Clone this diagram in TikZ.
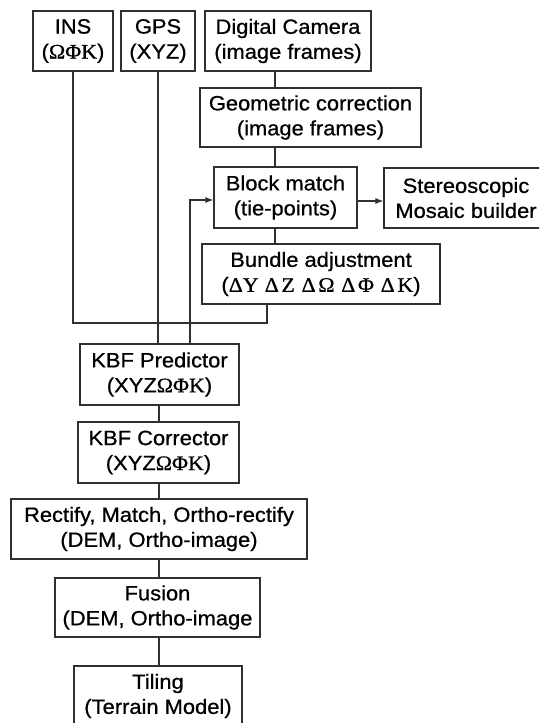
\documentclass[tikz,border=0pt]{standalone}
\usepackage{fontspec}
\setmainfont{Liberation Sans}[FakeStretch=1.06,FakeBold=0.7]
\newfontfamily\grk{Liberation Serif}[FakeStretch=1.06,FakeBold=0.7]
\usetikzlibrary{arrows.meta}
\definecolor{linegray}{HTML}{303030}
\tikzset{
  bx/.style={draw=linegray, line width=0.8pt, inner sep=0pt, align=center,
    font=\fontsize{15.5}{18.75}\selectfont},
  wire/.style={draw=linegray, line width=0.8pt},
  arr/.style={wire, -{Latex[length=6pt,width=4.5pt]}}
}
\begin{document}
\begin{tikzpicture}[x=0.75pt,y=-0.75pt]
\clip (0,0) rectangle (539,723);
\fill[white] (0,0) rectangle (539,723);

% sensors
\node[bx, minimum width=60pt, minimum height=45pt] (ins) at (73,41) {INS\\({\grk ΩΦΚ})};
\node[bx, minimum width=55.5pt, minimum height=45pt] (gps) at (158,41) {GPS\\(XYZ)};
\node[bx, minimum width=124.5pt, minimum height=45pt] (cam) at (288,41) {Digital Camera\\(image frames)};

% image processing chain
\node[bx, minimum width=165.75pt, minimum height=44.25pt] (geo) at (310.5,117.5) {Geometric correction\\(image frames)};
\node[bx, minimum width=107.25pt, minimum height=45.75pt] (block) at (285.5,197.5) {Block match\\(tie-points)};
\node[bx, minimum width=123pt, minimum height=45pt] (stereo) at (466,198) {Stereoscopic\\Mosaic builder};
\node[bx, minimum width=178.5pt, minimum height=45pt] (bund) at (321,274) {Bundle adjustment\\({\grk ΔY\hspace{2pt}\,Δ\hspace{2pt}Z\hspace{5pt}Δ\hspace{2pt}Ω\hspace{5pt}Δ\hspace{2pt}Φ\hspace{5pt}Δ\hspace{2pt}K})};

% filter and terrain chain
\node[bx, minimum width=119.25pt, minimum height=45.75pt] (kbfp) at (159.5,374.5) {KBF Predictor\\(XYZ{\grk ΩΦΚ})};
\node[bx, minimum width=120.75pt, minimum height=45.75pt] (kbfc) at (158.5,452.5) {KBF Corrector\\(XYZ{\grk ΩΦΚ})};
\node[bx, minimum width=222pt, minimum height=45pt] (rect) at (159,529) {Rectify, Match, Ortho-rectify\\(DEM, Ortho-image)};
\node[bx, minimum width=153.75pt, minimum height=44.25pt] (fus) at (157.5,607.5) {Fusion\\(DEM, Ortho-image};
\node[bx, minimum width=126pt, minimum height=45pt] (til) at (158,696) {Tiling\\(Terrain Model)};

% routing columns and rows
\coordinate (c1) at (275,0);
\coordinate (c2) at (159,0);
\coordinate (jn) at (267,323);
\coordinate (fb) at (190,200);
\coordinate (sy) at (370,201);

% connectors
\draw[wire] (ins.south) |- (jn) -- (jn |- bund.south);
\draw[wire] (gps.south) -- (gps.south |- kbfp.north);
\draw[arr] (fb |- kbfp.north) -- (fb) -- (block.west |- fb);
\draw[wire] (cam.south -| c1) -- (geo.north -| c1);
\draw[wire] (geo.south -| c1) -- (block.north -| c1);
\draw[wire] (block.south -| c1) -- (bund.north -| c1);
\draw[arr] (block.east |- sy) -- (stereo.west |- sy);
\draw[wire] (kbfp.south -| c2) -- (kbfc.north -| c2);
\draw[wire] (kbfc.south -| c2) -- (rect.north -| c2);
\draw[wire] (rect.south -| c2) -- (fus.north -| c2);
\draw[wire] (fus.south -| c2) -- (til.north -| c2);
\end{tikzpicture}
\end{document}
